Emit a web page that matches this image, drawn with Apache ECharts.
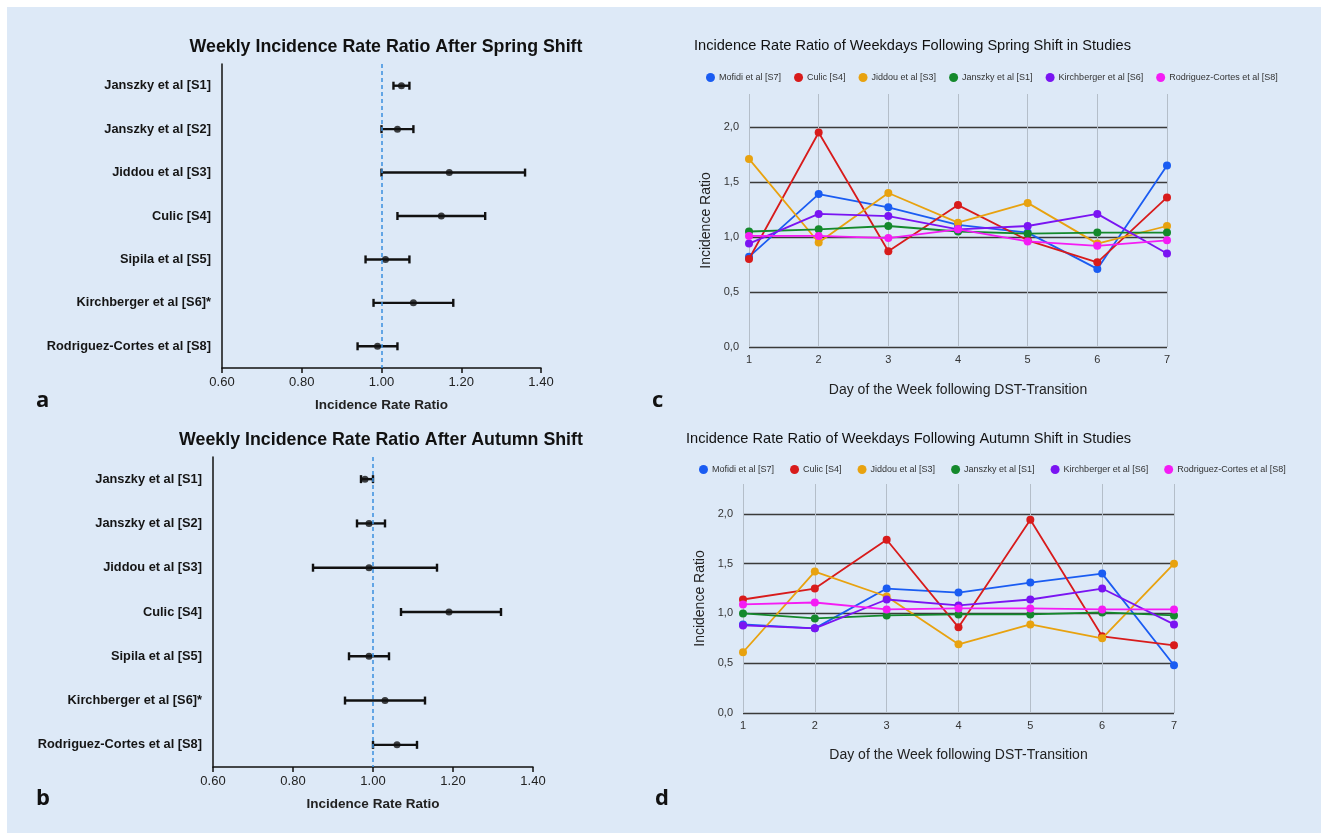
<!DOCTYPE html>
<html><head><meta charset="utf-8">
<script src="https://cdn.jsdelivr.net/npm/echarts@6/dist/echarts.min.js"></script>
<style>
html,body{margin:0;padding:0;background:#fff;width:1321px;height:833px;overflow:hidden}
#bg{position:absolute;left:7px;top:7px;right:0;bottom:0;background:#dde9f7}
#c{position:absolute;left:0;top:0;width:1321px;height:833px}
</style>
</head><body><div id="bg"></div><div id="c"></div>
<script>
// ---- forest plot data ----
const studies = ['Janszky et al [S1]','Janszky et al [S2]','Jiddou et al [S3]','Culic [S4]','Sipila et al [S5]','Kirchberger et al [S6]*','Rodriguez-Cortes et al [S8]'];
const springEst  = [1.05, 1.04, 1.17, 1.15, 1.01, 1.08, 0.99];
const springLow  = [1.03, 1.00, 1.00, 1.04, 0.96, 0.98, 0.94];
const springHigh = [1.07, 1.08, 1.36, 1.26, 1.07, 1.18, 1.04];
const autumnEst  = [0.98, 0.99, 0.99, 1.19, 0.99, 1.03, 1.06];
const autumnLow  = [0.97, 0.96, 0.85, 1.07, 0.94, 0.93, 1.00];
const autumnHigh = [1.00, 1.03, 1.16, 1.32, 1.04, 1.13, 1.11];
const forestTicks = [0.60, 0.80, 1.00, 1.20, 1.40];

// ---- weekday line data ----
const days = [1, 2, 3, 4, 5, 6, 7];
const lineStudies = ['Mofidi et al [S7]','Culic [S4]','Jiddou et al [S3]','Janszky et al [S1]','Kirchberger et al [S6]','Rodriguez-Cortes et al [S8]'];
const lineColors = ['#1a5cf2','#d81b1b','#e8a20f','#14892c','#7a14f2','#f41cf4'];
const mofidiSpring    = [0.82, 1.39, 1.27, 1.11, 1.04, 0.71, 1.65];
const culicSpring     = [0.80, 1.95, 0.87, 1.29, 0.97, 0.77, 1.36];
const jiddouSpring    = [1.71, 0.95, 1.40, 1.13, 1.31, 0.94, 1.10];
const janszkySpring   = [1.05, 1.07, 1.10, 1.05, 1.03, 1.04, 1.04];
const kirchSpring     = [0.94, 1.21, 1.19, 1.07, 1.10, 1.21, 0.85];
const rodriguezSpring = [1.01, 1.01, 0.99, 1.07, 0.96, 0.92, 0.97];
const mofidiAutumn    = [0.89, 0.85, 1.25, 1.21, 1.31, 1.40, 0.48];
const culicAutumn     = [1.14, 1.25, 1.74, 0.86, 1.94, 0.77, 0.68];
const jiddouAutumn    = [0.61, 1.42, 1.17, 0.69, 0.89, 0.75, 1.50];
const janszkyAutumn   = [1.00, 0.95, 0.98, 0.99, 0.99, 1.01, 0.98];
const kirchAutumn     = [0.88, 0.85, 1.14, 1.08, 1.14, 1.25, 0.89];
const rodriguezAutumn = [1.09, 1.11, 1.04, 1.05, 1.05, 1.04, 1.04];
const springLines = [mofidiSpring, culicSpring, jiddouSpring, janszkySpring, kirchSpring, rodriguezSpring];
const autumnLines = [mofidiAutumn, culicAutumn, jiddouAutumn, janszkyAutumn, kirchAutumn, rodriguezAutumn];

const NARROW = '"Liberation Sans Narrow","Arial Narrow","Liberation Sans",Arial,sans-serif';
const SANS = '"Liberation Sans",Arial,sans-serif';

function forestX(gi){
  return {
    gridIndex: gi, type: 'value', min: forestTicks[0], max: forestTicks[forestTicks.length-1], interval: 0.2,
    axisLine: {show: true, lineStyle: {color: '#111', width: 1.5}},
    axisTick: {show: true, length: 5, lineStyle: {color: '#111', width: 1.5}},
    splitLine: {show: false},
    axisLabel: {formatter: v => v.toFixed(2), fontSize: 13, color: '#222', fontFamily: NARROW, margin: 8},
    name: 'Incidence Rate Ratio', nameLocation: 'middle', nameGap: 30,
    nameTextStyle: {fontSize: 13.5, fontWeight: 'bold', color: '#222', fontFamily: NARROW}
  };
}
function forestY(gi){
  return {
    gridIndex: gi, type: 'category', data: studies, inverse: true,
    axisLine: {show: true, lineStyle: {color: '#111', width: 1.5}},
    axisTick: {show: false},
    axisLabel: {fontSize: 12.8, fontWeight: 'bold', color: '#151515', fontFamily: NARROW, margin: 11},
    splitLine: {show: false}
  };
}
function lineX(gi, nameGap){
  return {
    gridIndex: gi, type: 'value', min: 1, max: 7, interval: 1,
    axisLine: {show: false}, axisTick: {show: false},
    splitLine: {show: true, lineStyle: {color: '#b4bec9', width: 1}},
    axisLabel: {fontSize: 11, color: '#333', fontFamily: SANS, margin: 7},
    name: 'Day of the Week following DST-Transition', nameLocation: 'middle', nameGap: nameGap,
    nameTextStyle: {fontSize: 14, color: '#222', fontFamily: SANS}
  };
}
function lineY(gi){
  return {
    gridIndex: gi, type: 'value', min: 0, max: 2.3, interval: 0.5,
    axisLine: {show: false}, axisTick: {show: false},
    splitLine: {show: true, showMaxLine: false, lineStyle: {color: '#3a3a3a', width: 1.3}},
    axisLabel: {showMaxLabel: false, formatter: v => v.toFixed(1).replace('.', ','), fontSize: 11, color: '#333', fontFamily: SANS, margin: 10},
    name: 'Incidence Ratio', nameLocation: 'middle', nameGap: 36, nameRotate: 90,
    nameTextStyle: {fontSize: 14, color: '#222', fontFamily: SANS}
  };
}
function errorSeries(ai, low, high){
  return {
    type: 'custom', xAxisIndex: ai, yAxisIndex: ai,
    data: low.map((l, i) => [i, l, high[i]]),
    encode: {x: [1, 2], y: 0},
    renderItem: (params, api) => {
      const idx = api.value(0);
      const p1 = api.coord([api.value(1), idx]);
      const p2 = api.coord([api.value(2), idx]);
      const h = 4;
      const st = {stroke: '#111', lineWidth: 2.4};
      return {type: 'group', children: [
        {type: 'line', shape: {x1: p1[0], y1: p1[1], x2: p2[0], y2: p2[1]}, style: st},
        {type: 'line', shape: {x1: p1[0], y1: p1[1]-h, x2: p1[0], y2: p1[1]+h}, style: st},
        {type: 'line', shape: {x1: p2[0], y1: p2[1]-h, x2: p2[0], y2: p2[1]+h}, style: st}
      ]};
    },
    silent: true, z: 3
  };
}
function pointSeries(ai, est){
  return {
    type: 'scatter', xAxisIndex: ai, yAxisIndex: ai,
    data: est.map((e, i) => [e, i]),
    symbol: 'circle', symbolSize: 7, itemStyle: {color: '#111'}, z: 4, silent: true,
    markLine: {silent: true, symbol: 'none', label: {show: false},
      lineStyle: {type: [4, 3], color: '#3a8fe0', width: 1.5},
      data: [{xAxis: 1}]}
  };
}
function lineSeries(ai, sets){
  return sets.map((vals, k) => ({
    type: 'line', name: lineStudies[k], xAxisIndex: ai, yAxisIndex: ai,
    data: days.map((d, i) => [d, vals[i]]),
    symbol: 'circle', symbolSize: 8, showSymbol: true,
    lineStyle: {width: 1.8, color: lineColors[k]}, itemStyle: {color: lineColors[k]},
    z: 3 + k, silent: true
  }));
}
function legendAt(left, top, gap){
  return {left: left, top: top, data: lineStudies, icon: 'circle', itemWidth: 9, itemHeight: 9, itemGap: gap,
    selectedMode: false, textStyle: {fontSize: 9, color: '#333', fontFamily: SANS, padding: [0, 0, 0, -1]}};
}
function txt(x, y, text, font, align){
  return {type: 'text', x: x, y: y, silent: true,
    style: {text: text, font: font, fill: '#111', textAlign: align, textVerticalAlign: 'middle'}};
}

const chart = echarts.init(document.getElementById('c'), null, {renderer: 'canvas'});
chart.setOption({
  backgroundColor: 'transparent',
  animation: false,
  grid: [
    {left: 222, top: 64, width: 319, height: 304},
    {left: 213, top: 457, width: 320, height: 310},
    {left: 749, top: 94, width: 418, height: 253},
    {left: 743, top: 484, width: 431, height: 229}
  ],
  xAxis: [forestX(0), forestX(1), lineX(2, 36), lineX(3, 35)],
  yAxis: [forestY(0), forestY(1), lineY(2), lineY(3)],
  legend: [legendAt(701, 68, 13), legendAt(694, 460, 16)],
  series: [
    errorSeries(0, springLow, springHigh), pointSeries(0, springEst),
    errorSeries(1, autumnLow, autumnHigh), pointSeries(1, autumnEst),
    ...lineSeries(2, springLines),
    ...lineSeries(3, autumnLines)
  ],
  graphic: [
    txt(386, 47, 'Weekly Incidence Rate Ratio After Spring Shift', 'bold 17.8px ' + SANS, 'center'),
    txt(381, 440, 'Weekly Incidence Rate Ratio After Autumn Shift', 'bold 17.8px ' + SANS, 'center'),
    txt(694, 46, 'Incidence Rate Ratio of Weekdays Following Spring Shift in Studies', '14.6px ' + SANS, 'left'),
    txt(686, 439, 'Incidence Rate Ratio of Weekdays Following Autumn Shift in Studies', '14.6px ' + SANS, 'left'),
    txt(36, 401, 'a', 'bold 22px "Open Sans",' + SANS, 'left'),
    txt(36, 799, 'b', 'bold 22px "Open Sans",' + SANS, 'left'),
    txt(652, 401, 'c', 'bold 22px "Open Sans",' + SANS, 'left'),
    txt(655, 799, 'd', 'bold 22px "Open Sans",' + SANS, 'left')
  ]
});
</script>
</body></html>
